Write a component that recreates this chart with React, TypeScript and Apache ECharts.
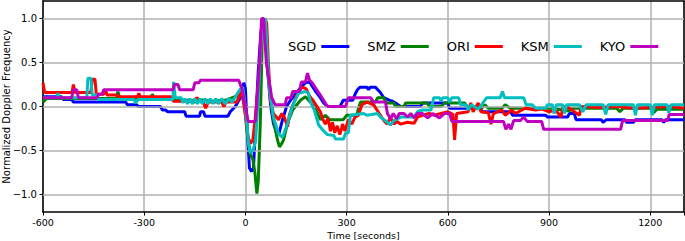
import React, { useEffect, useRef } from 'react';
import * as echarts from 'echarts';

type P = [number, number];

const stations = ['SGD', 'SMZ', 'ORI', 'KSM', 'KYO'];
const colors = ['#0000ff', '#008000', '#ff0000', '#00bfbf', '#bf00bf'];
const yTickValues = [-1, -0.5, 0, 0.5, 1];

const sgd: P[] = [
  [-600, 0.11], [-545, 0.11], [-540, 0.08], [-515, 0.08], [-510, 0.05], [-355, 0.05], [-350, 0.02],
  [-322, 0.02], [-318, 0.0], [-252, 0.0], [-246, -0.04], [-236, -0.04], [-231, -0.06], [-180, -0.06],
  [-176, -0.11], [-136, -0.11], [-133, -0.06], [-124, -0.06], [-120, -0.11], [-52, -0.11], [-45, -0.06],
  [-30, 0.0], [-18, 0.08], [-10, 0.12], [-5, 0.27], [0, 0.2], [6, -0.3], [12, -0.7], [18, -0.74],
  [24, -0.7], [30, -0.2], [38, 0.4], [46, 0.85], [52, 0.99], [58, 0.92], [66, 0.4], [75, 0.0],
  [83, -0.19], [92, -0.3], [100, -0.3], [110, -0.15], [122, 0.0], [135, 0.08], [150, 0.15],
  [165, 0.22], [178, 0.27], [190, 0.28], [200, 0.22], [210, 0.16], [222, 0.1], [232, 0.04],
  [243, 0.0], [280, 0.0], [290, 0.07], [318, 0.07], [325, 0.14], [332, 0.19], [340, 0.22],
  [360, 0.22], [365, 0.19], [370, 0.22], [385, 0.22], [400, 0.16], [410, 0.1], [428, 0.07],
  [436, 0.06], [445, 0.04], [460, 0.0], [519, 0.0], [525, 0.04], [600, 0.04], [605, -0.02],
  [697, -0.02], [702, -0.06], [786, -0.06], [792, -0.1], [890, -0.1], [896, -0.12], [955, -0.12],
  [960, -0.08], [975, -0.08], [980, -0.15], [1055, -0.15], [1060, -0.18], [1070, -0.15],
  [1125, -0.15], [1130, -0.18], [1150, -0.18], [1155, -0.15], [1235, -0.15], [1240, -0.18],
  [1245, -0.15], [1300, -0.15],
];

const smz: P[] = [
  [-600, 0.05], [-590, 0.09], [-382, 0.09], [-378, 0.17], [-372, 0.09], [-280, 0.09], [-276, 0.14],
  [-270, 0.09], [-215, 0.09], [-210, 0.07], [-160, 0.07], [-150, 0.05], [-140, 0.08], [-100, 0.06],
  [-60, 0.07], [-25, 0.12], [-15, 0.18], [-5, 0.1], [5, -0.3], [15, -0.55], [22, -0.6], [28, -0.75],
  [34, -0.99], [38, -0.85], [44, -0.2], [50, 0.8], [55, 1.0], [60, 0.9], [65, 0.45], [80, -0.08],
  [95, -0.38], [101, -0.46], [108, -0.42], [113, -0.38], [125, -0.19], [140, -0.04], [163, 0.07],
  [178, 0.11], [193, 0.05], [208, -0.03], [222, -0.15], [237, -0.1], [250, -0.15], [290, -0.15],
  [300, -0.1], [330, -0.1], [335, -0.02], [341, 0.05], [385, 0.05], [392, 0.1], [410, 0.1],
  [418, 0.04], [440, 0.04], [445, 0.0], [470, 0.0], [475, 0.04], [540, 0.04], [545, 0.0],
  [580, 0.0], [590, 0.04], [650, 0.04], [660, -0.02], [700, -0.02], [710, 0.02], [720, -0.02],
  [760, -0.02], [770, 0.02], [785, -0.02], [905, -0.02], [960, -0.05], [970, -0.02], [1100, -0.02],
  [1110, -0.06], [1120, -0.02], [1200, -0.02], [1210, -0.07], [1220, -0.03], [1300, -0.03],
];

const ori: P[] = [
  [-600, 0.27], [-595, 0.16], [-514, 0.16], [-510, 0.25], [-505, 0.16], [-458, 0.16], [-454, 0.31],
  [-446, 0.31], [-442, 0.14], [-420, 0.14], [-415, 0.19], [-410, 0.13], [-380, 0.13], [-376, 0.11],
  [-320, 0.11], [-316, 0.15], [-312, 0.11], [-220, 0.11], [-214, 0.06], [-150, 0.06], [-145, 0.1],
  [-125, 0.05], [-118, -0.02], [-110, 0.05], [-70, 0.05], [-64, 0.0], [-58, 0.05], [-25, 0.05],
  [-15, 0.17], [-8, 0.1], [0, -0.1], [8, -0.35], [15, -0.42], [22, -0.38], [30, -0.1], [40, 0.35],
  [50, 0.85], [58, 1.0], [63, 0.95], [68, 0.5], [74, 0.07], [83, -0.08], [98, -0.15], [108, -0.08],
  [115, -0.12], [125, -0.23], [130, -0.1], [139, 0.0], [154, 0.15], [169, 0.22], [180, 0.2],
  [190, 0.12], [202, 0.06], [212, 0.0], [222, -0.06], [230, -0.15], [237, -0.2], [245, -0.13],
  [252, -0.28], [258, -0.18], [265, -0.3], [272, -0.22], [280, -0.32], [288, -0.2], [295, -0.28],
  [305, -0.15], [315, -0.2], [325, -0.12], [335, -0.1], [345, 0.02], [360, 0.05], [380, 0.02],
  [390, -0.04], [400, -0.1], [410, -0.16], [420, -0.2], [430, -0.12], [440, -0.2], [450, -0.17],
  [460, -0.2], [480, -0.18], [500, -0.19], [510, -0.12], [525, -0.1], [545, -0.08], [560, -0.1],
  [600, -0.06], [615, -0.09], [620, -0.38], [626, -0.08], [660, -0.06], [668, 0.04], [675, -0.06],
  [690, 0.04], [698, -0.06], [720, -0.07], [728, -0.2], [735, -0.08], [760, -0.04], [770, -0.1],
  [790, -0.04], [800, -0.08], [830, -0.02], [860, -0.04], [880, -0.03], [900, -0.06], [920, -0.04],
  [935, -0.12], [942, 0.0], [960, -0.02], [990, -0.1], [995, 0.0], [1050, -0.01], [1100, 0.0],
  [1150, -0.02], [1200, -0.01], [1260, 0.0], [1300, -0.02],
];

const ksm: P[] = [
  [-600, 0.1], [-560, 0.1], [-556, 0.15], [-552, 0.1], [-470, 0.1], [-467, 0.32], [-458, 0.32],
  [-454, 0.13], [-440, 0.13], [-436, 0.08], [-330, 0.08], [-326, 0.04], [-318, 0.08], [-215, 0.08],
  [-213, 0.28], [-208, 0.1], [-190, 0.1], [-186, 0.04], [-180, 0.09], [-172, 0.03], [-165, 0.09],
  [-157, 0.03], [-150, 0.09], [-142, 0.03], [-135, 0.09], [-128, 0.03], [-120, 0.09], [-112, 0.03],
  [-104, 0.09], [-96, 0.03], [-88, 0.09], [-80, 0.03], [-70, 0.09], [-60, 0.03], [-50, 0.09],
  [-40, 0.05], [-28, 0.12], [-15, 0.2], [-8, 0.22], [0, 0.0], [10, -0.45], [15, -0.53], [24, -0.48],
  [30, -0.4], [38, 0.1], [46, 0.7], [53, 0.98], [59, 1.0], [65, 0.6], [70, 0.22], [83, -0.12],
  [98, -0.31], [110, -0.35], [125, -0.19], [139, 0.0], [157, 0.15], [178, 0.17], [187, 0.15],
  [193, 0.05], [205, -0.05], [217, -0.21], [230, -0.27], [243, -0.32], [262, -0.33], [267, -0.37],
  [291, -0.37], [297, -0.3], [305, -0.3], [311, -0.1], [350, -0.08], [360, -0.1], [392, -0.08],
  [400, -0.12], [421, -0.18], [430, -0.21], [440, -0.16], [460, -0.12], [500, -0.12], [510, -0.06],
  [525, -0.04], [550, -0.04], [558, 0.1], [575, 0.1], [580, 0.06], [585, 0.1], [600, 0.1],
  [605, 0.05], [612, 0.1], [632, 0.1], [638, 0.02], [655, 0.02], [660, -0.04], [670, 0.02],
  [690, -0.03], [700, 0.02], [715, 0.1], [755, 0.1], [762, 0.17], [768, 0.1], [825, 0.1],
  [832, 0.02], [850, 0.02], [860, -0.02], [890, -0.02], [895, 0.02], [910, 0.02], [915, -0.08],
  [922, 0.02], [940, 0.02], [946, -0.08], [952, 0.02], [990, 0.02], [1000, -0.06], [1010, 0.02],
  [1060, 0.02], [1068, -0.09], [1075, 0.02], [1150, 0.02], [1156, -0.1], [1162, 0.02], [1200, 0.02],
  [1206, -0.1], [1212, 0.02], [1250, 0.02], [1255, -0.07], [1262, 0.02], [1300, 0.02],
];

const kyo: P[] = [
  [-600, 0.1], [-515, 0.1], [-510, 0.19], [-500, 0.19], [-495, 0.1], [-440, 0.1], [-435, 0.14],
  [-425, 0.14], [-420, 0.19], [-215, 0.19], [-210, 0.25], [-200, 0.25], [-195, 0.19], [-155, 0.19],
  [-150, 0.27], [-138, 0.27], [-133, 0.3], [-20, 0.3], [-10, 0.2], [0, 0.0], [8, -0.17], [30, -0.17],
  [42, 0.5], [48, 1.0], [54, 1.0], [62, 0.5], [78, 0.1], [88, 0.02], [118, 0.02], [122, 0.1],
  [135, 0.1], [140, 0.17], [160, 0.17], [166, 0.28], [178, 0.28], [184, 0.38], [190, 0.3],
  [198, 0.27], [208, 0.21], [222, 0.13], [240, 0.02], [245, 0.0], [297, 0.0], [305, 0.1],
  [371, 0.1], [380, 0.05], [415, 0.05], [421, -0.08], [430, -0.14], [438, -0.08], [448, -0.14],
  [456, -0.08], [470, -0.08], [480, -0.12], [490, -0.08], [500, -0.13], [510, -0.08], [525, -0.08],
  [540, -0.13], [555, -0.08], [575, -0.13], [590, -0.08], [605, -0.08], [612, -0.17], [765, -0.17],
  [772, -0.26], [780, -0.2], [787, -0.26], [795, -0.16], [815, -0.16], [825, -0.12], [835, -0.17],
  [878, -0.17], [884, -0.26], [1112, -0.26], [1118, -0.16], [1252, -0.16], [1256, -0.09], [1300, -0.09],
];

const seriesData: P[][] = [sgd, smz, ori, ksm, kyo];

const font = 'DejaVu Sans';
const gridColor = '#b0b0b0';

export default function App() {
  const ref = useRef<HTMLDivElement>(null);
  useEffect(() => {
    document.body.style.margin = '0';
    if (!ref.current) return;
    const chart = echarts.init(ref.current, undefined, { renderer: 'svg' });
    chart.setOption({
      animation: false,
      backgroundColor: '#ffffff',
      grid: {
        left: 43, right: 1, top: 1, bottom: 29,
        containLabel: false, outerBoundsMode: 'none',
      },
      legend: {
        data: stations,
        left: 283, top: 35,
        orient: 'horizontal',
        align: 'right',
        icon: 'rect',
        itemWidth: 28, itemHeight: 3, itemGap: 18,
        textStyle: { fontFamily: font, fontSize: 13, color: '#000', width: 27 },
      },
      xAxis: [
        {
          type: 'value', min: -600, max: 1300, interval: 300,
          name: 'Time [seconds]', nameLocation: 'middle', nameGap: 18, nameMoveOverlap: false,
          nameTextStyle: { fontFamily: font, fontSize: 9.5, color: '#000' },
          axisLine: { show: true, onZero: false, lineStyle: { color: '#000', width: 1.5 } },
          axisTick: { show: true, length: 3.5, lineStyle: { color: '#000', width: 1 } },
          axisLabel: {
            fontFamily: font, fontSize: 9.5, color: '#000', margin: 5,
            formatter: (v: number) => (v % 300 === 0 ? String(v) : ''),
          },
          splitLine: { show: true, lineStyle: { color: gridColor, width: 1.5 } },
        },
        {
          type: 'value', min: -600, max: 1300, position: 'top',
          axisLine: { show: true, onZero: false, lineStyle: { color: '#000', width: 1.5 } },
          axisTick: { show: false }, axisLabel: { show: false }, splitLine: { show: false },
        },
      ],
      yAxis: [
        {
          type: 'value', min: -1.2, max: 1.2,
          name: 'Normalized Doppler Frequency', nameLocation: 'middle', nameGap: 32, nameRotate: 90,
          nameMoveOverlap: false,
          nameTextStyle: { fontFamily: font, fontSize: 10, color: '#000' },
          axisLine: { show: true, onZero: false, lineStyle: { color: '#000', width: 1.5 } },
          axisTick: { show: true, length: 3.5, customValues: yTickValues, lineStyle: { color: '#000', width: 1 } },
          axisLabel: {
            fontFamily: font, fontSize: 10, color: '#000', margin: 6, customValues: yTickValues,
            formatter: (v: number) => v.toFixed(1).replace('-', '\u2212'),
          },
          splitLine: { show: false },
        },
        {
          type: 'value', min: -1.2, max: 1.2, position: 'right',
          axisLine: { show: true, onZero: false, lineStyle: { color: '#000', width: 1.5 } },
          axisTick: { show: false }, axisLabel: { show: false }, splitLine: { show: false },
        },
      ],
      series: [
        ...stations.map((name, i) => ({
          name, type: 'line', data: seriesData[i], showSymbol: false, symbol: 'none',
          color: colors[i], lineStyle: { color: colors[i], width: 3 }, z: 3 + i,
        })),
        {
          name: 'hgrid', type: 'line', data: [], silent: true, z: 1,
          markLine: {
            silent: true, symbol: 'none', label: { show: false },
            lineStyle: { color: gridColor, width: 1.5, type: 'solid' },
            data: yTickValues.map((v) => ({ yAxis: v })),
          },
        },
      ],
    });
    return () => chart.dispose();
  }, []);
  return <div ref={ref} style={{ position: 'absolute', left: 0, top: 0, width: 685, height: 241 }} />;
}
